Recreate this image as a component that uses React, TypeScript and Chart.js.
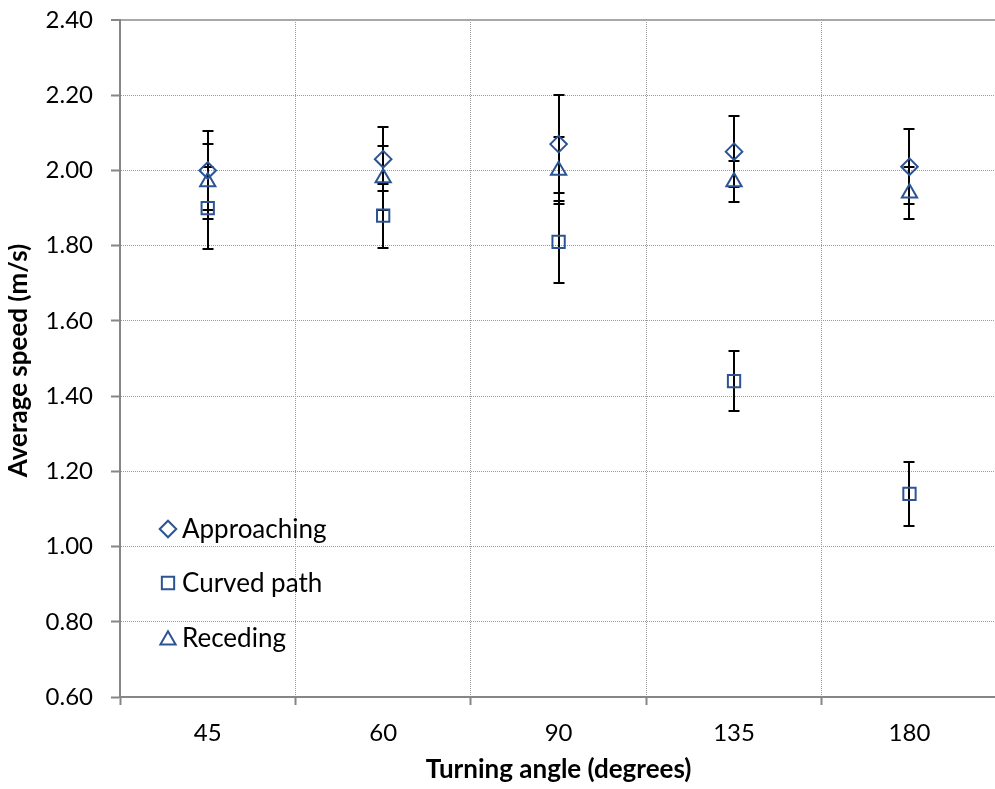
import React, { useEffect, useRef } from 'react';
import { Chart, registerables } from 'chart.js';

Chart.register(...registerables);

// ---- data ----
const categories = ['45', '60', '90', '135', '180'];
const seriesNames = ['Approaching', 'Curved path', 'Receding'];
const approaching = [2.0, 2.03, 2.07, 2.05, 2.01];
const approachingErr = [0.105, 0.085, 0.13, 0.095, 0.1];
const curvedPath = [1.9, 1.88, 1.81, 1.44, 1.14];
const curvedPathErr = [0.11, 0.085, 0.11, 0.08, 0.085];
const receding = [1.97, 1.98, 2.0, 1.97, 1.94];
const recedingErr = [0.1, 0.085, 0.09, 0.055, 0.07];
const yMin = 0.6;
const yMax = 2.4;
const yStep = 0.2;
const xTitle = 'Turning angle (degrees)';
const yTitle = 'Average speed (m/s)';

const FONT = 'Lato, "Open Sans", sans-serif';
const BLUE = '#2C5494';
const AXIS = '#868686';
const GRID = '#9a9a9a';

const errorBarPlugin = {
  id: 'errorBars',
  beforeDatasetsDraw(chart: any) {
    const ctx = chart.ctx;
    const ys = chart.scales.y;
    ctx.save();
    ctx.strokeStyle = '#000';
    ctx.lineWidth = 2;
    chart.data.datasets.forEach((ds: any, di: number) => {
      const meta = chart.getDatasetMeta(di);
      meta.data.forEach((pt: any, i: number) => {
        const v = ds.data[i];
        const e = ds.errors[i];
        const x = Math.round(pt.x);
        const yT = Math.round(ys.getPixelForValue(v + e));
        const yB = Math.round(ys.getPixelForValue(v - e));
        ctx.beginPath();
        ctx.moveTo(x, yT);
        ctx.lineTo(x, yB);
        ctx.moveTo(x - 5.5, yT);
        ctx.lineTo(x + 5.5, yT);
        ctx.moveTo(x - 5.5, yB);
        ctx.lineTo(x + 5.5, yB);
        ctx.stroke();
      });
    });
    ctx.restore();
  },
};

function markerPath(ctx: CanvasRenderingContext2D, style: string, x: number, y: number, r: number) {
  ctx.beginPath();
  if (style === 'rectRot') {
    ctx.moveTo(x - r, y);
    ctx.lineTo(x, y - r);
    ctx.lineTo(x + r, y);
    ctx.lineTo(x, y + r);
    ctx.closePath();
  } else if (style === 'rect') {
    const s = r * Math.SQRT1_2;
    ctx.rect(x - s, y - s, 2 * s, 2 * s);
  } else {
    const w = r * Math.sqrt(3) / 2;
    ctx.moveTo(x, y - r);
    ctx.lineTo(x + w, y + r / 2);
    ctx.lineTo(x - w, y + r / 2);
    ctx.closePath();
  }
}

const decorPlugin = {
  id: 'decor',
  afterDraw(chart: any) {
    const ctx = chart.ctx as CanvasRenderingContext2D;
    const area = chart.chartArea;
    ctx.save();
    // legend
    const offsets = [509, 563, 620];
    chart.data.datasets.forEach((ds: any, i: number) => {
      const mx = area.left + 48;
      const my = area.top + offsets[i];
      ctx.strokeStyle = BLUE;
      ctx.lineWidth = 2;
      markerPath(ctx, ds.pointStyle, mx, my, ds.pointRadius);
      ctx.stroke();
      ctx.fillStyle = '#000';
      ctx.font = `26px ${FONT}`;
      ctx.textAlign = 'left';
      ctx.textBaseline = 'middle';
      ctx.fillText(ds.label, area.left + 62, area.top + (i === 2 ? offsets[i] - 2 : offsets[i]) + 1);
    });
    // axis titles
    ctx.font = `bold 26px ${FONT}`;
    ctx.fillStyle = '#000';
    ctx.textAlign = 'center';
    ctx.textBaseline = 'alphabetic';
    ctx.fillText(xTitle, (area.left + area.right) / 2, 770);
    ctx.translate(19, (area.top + area.bottom) / 2 + 2);
    ctx.rotate(-Math.PI / 2);
    ctx.fillText(yTitle, 0, 0);
    ctx.restore();
  },
};

export default function App() {
  const ref = useRef<HTMLCanvasElement | null>(null);

  useEffect(() => {
    if (!ref.current) return;
    const mk = (label: string, data: number[], errors: number[], pointStyle: string, r: number) => ({
      label,
      data,
      errors,
      showLine: false,
      pointStyle,
      pointRadius: r,
      pointBorderWidth: 2,
      pointBorderColor: BLUE,
      pointBackgroundColor: 'rgba(0,0,0,0)',
      borderColor: BLUE,
      backgroundColor: 'rgba(0,0,0,0)',
    });
    const chart = new Chart(ref.current, {
      type: 'line',
      data: {
        labels: categories,
        datasets: [
          mk(seriesNames[0], approaching, approachingErr, 'rectRot', 8.3),
          mk(seriesNames[1], curvedPath, curvedPathErr, 'rect', 8.7),
          mk(seriesNames[2], receding, recedingErr, 'triangle', 8.8),
        ] as any,
      },
      options: {
        responsive: false,
        animation: false,
        events: [],
        layout: { padding: { top: 12, right: 4.5, bottom: 0, left: 0 } },
        plugins: { legend: { display: false }, tooltip: { enabled: false } },
        scales: {
          x: {
            type: 'category',
            offset: true,
            grid: {
              offset: true,
              color: GRID,
              lineWidth: 1,
              tickColor: AXIS,
              tickWidth: 2,
              tickLength: 8,
              tickBorderDash: [],
            } as any,
            border: { color: AXIS, width: 2, dash: [1, 1] },
            ticks: {
              color: '#000',
              font: { family: FONT, size: 24 },
              padding: 14,
              maxRotation: 0,
              autoSkip: false,
            },
            afterFit: (s: any) => {
              s.height = 92;
              s.paddingLeft = 0;
              s.paddingRight = 0;
            },
          },
          y: {
            min: yMin,
            max: yMax,
            ticks: {
              stepSize: yStep,
              color: '#000',
              font: { family: FONT, size: 24 },
              padding: 18,
              callback: (v: any) => Number(v).toFixed(2),
            },
            grid: {
              color: (c: any) => (c.tick && c.tick.value > yMax - 0.01 ? '#a8a8a8' : GRID),
              lineWidth: (c: any) => (c.tick && c.tick.value > yMax - 0.01 ? 2 : 1),
              tickColor: AXIS,
              tickWidth: 2,
              tickLength: 9,
              tickBorderDash: [],
            } as any,
            border: {
              color: AXIS,
              width: 2,
              dash: (c: any) => (c.tick && c.tick.value > yMax - 0.01 ? [] : [1, 1]),
            } as any,
            afterFit: (s: any) => {
              s.width = 112;
              s.paddingTop = 0;
              s.paddingBottom = 0;
            },
          },
        },
      },
      plugins: [errorBarPlugin, decorPlugin],
    });
    return () => chart.destroy();
  }, []);

  return (
    <div style={{ position: 'absolute', left: 8, top: 8, width: 987, height: 781, overflow: 'hidden' }}>
      <canvas ref={ref} width={1000} height={781} style={{ display: 'block', width: 1000, height: 781 }} />
    </div>
  );
}
